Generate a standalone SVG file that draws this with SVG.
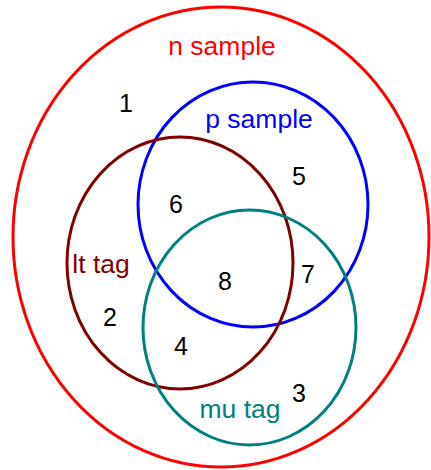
<svg xmlns="http://www.w3.org/2000/svg" width="431" height="470" viewBox="0 0 431 470">
<style>
.c{fill:none;stroke-width:3}
text{font-family:"Liberation Sans",Arial,sans-serif;font-size:25px;text-anchor:middle}
.l{font-size:26.5px}
.n{fill:#000}
</style>
<rect width="431" height="470" fill="#fff"/>
<g id="n-sample">
<ellipse class="c" cx="221" cy="237" rx="208" ry="230" stroke="#ff0000"/>
<text class="l" x="222" y="55" fill="#ff0000">n sample</text>
</g>
<g id="p-sample">
<ellipse class="c" cx="253" cy="204.5" rx="115" ry="122.5" stroke="#0000ff"/>
<text class="l" x="259" y="128" fill="#0000ff">p sample</text>
</g>
<g id="lt-tag">
<ellipse class="c" cx="180" cy="263" rx="113" ry="126" stroke="#800000"/>
<text class="l" x="101" y="273" fill="#800000">lt tag</text>
</g>
<g id="mu-tag">
<ellipse class="c" cx="249.5" cy="327.5" rx="106.5" ry="117.5" stroke="#008080"/>
<text class="l" x="240" y="418" fill="#008080">mu tag</text>
</g>
<g id="regions">
<text class="n" x="126" y="112">1</text>
<text class="n" x="110" y="326">2</text>
<text class="n" x="299" y="402">3</text>
<text class="n" x="181" y="355">4</text>
<text class="n" x="299" y="185">5</text>
<text class="n" x="176" y="213">6</text>
<text class="n" x="308" y="283">7</text>
<text class="n" x="225" y="290">8</text>
</g>
<g id="connectors"></g>
</svg>
